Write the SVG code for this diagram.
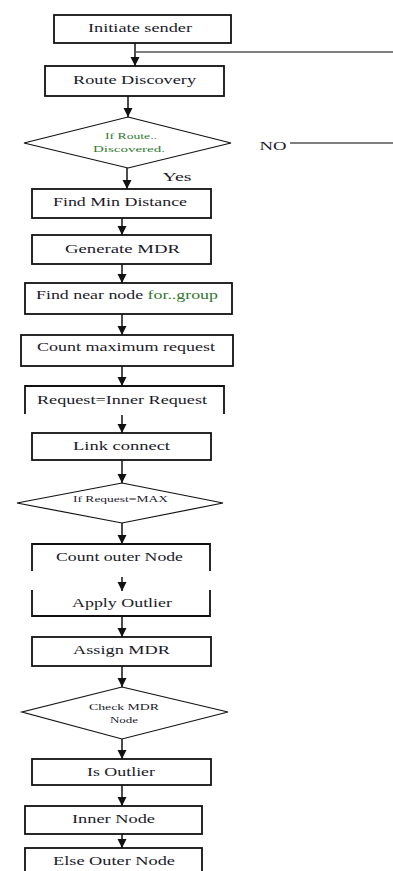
<svg xmlns="http://www.w3.org/2000/svg" width="393" height="871" viewBox="0 0 393 871">
<style>
.box{fill:#fff;stroke:#111;stroke-width:1.8}
.open{fill:none;stroke:#111;stroke-width:1.8}
.dia{fill:#fff;stroke:#111;stroke-width:1.2}
text{font-family:'Liberation Serif','DejaVu Serif','Times New Roman',serif}
.t{font-size:12.5px;fill:#1a1a2a;text-anchor:middle}
.s{font-size:8px;fill:#1a1a2a;text-anchor:middle}
.g{fill:#2f7a2f}
.c{stroke:#111;stroke-width:1.5;fill:none}
.side{stroke:#555;stroke-width:1.3;fill:none}
</style>
<defs>
<marker id="ah" markerUnits="userSpaceOnUse" markerWidth="10" markerHeight="10" refX="9" refY="5" orient="auto">
<path d="M0,0.5 L9,5 L0,9.5 z" fill="#111"/>
</marker>
</defs>

<g id="connectors">
<line class="c" x1="135" y1="43" x2="135" y2="66" marker-end="url(#ah)"/>
<line class="side" x1="135" y1="52" x2="393" y2="52"/>
<line class="c" x1="128" y1="96" x2="128" y2="117" marker-end="url(#ah)"/>
<line class="side" x1="290" y1="143" x2="393" y2="143"/>
<line class="c" x1="127" y1="168" x2="127" y2="189" marker-end="url(#ah)"/>
<line class="c" x1="122" y1="218" x2="122" y2="235" marker-end="url(#ah)"/>
<line class="c" x1="122" y1="264" x2="122" y2="283" marker-end="url(#ah)"/>
<line class="c" x1="122" y1="314" x2="122" y2="335" marker-end="url(#ah)"/>
<line class="c" x1="122" y1="366" x2="122" y2="386" marker-end="url(#ah)"/>
<line class="c" x1="122" y1="415" x2="122" y2="433" marker-end="url(#ah)"/>
<line class="c" x1="122" y1="460" x2="122" y2="483" marker-end="url(#ah)"/>
<line class="c" x1="122" y1="523" x2="122" y2="544" marker-end="url(#ah)"/>
<line class="c" x1="122" y1="577" x2="122" y2="591" marker-end="url(#ah)"/>
<line class="c" x1="122" y1="616" x2="122" y2="637" marker-end="url(#ah)"/>
<line class="c" x1="122" y1="666" x2="122" y2="687" marker-end="url(#ah)"/>
<line class="c" x1="122" y1="739" x2="122" y2="759" marker-end="url(#ah)"/>
<line class="c" x1="122" y1="785" x2="122" y2="806" marker-end="url(#ah)"/>
<line class="c" x1="122" y1="834" x2="122" y2="848" marker-end="url(#ah)"/>
</g>

<g id="initiate">
<rect class="box" x="54" y="15" width="177" height="28"/>
<text class="t" x="140" y="32" textLength="104" lengthAdjust="spacingAndGlyphs">Initiate sender</text>
</g>
<g id="route">
<rect class="box" x="45" y="66" width="179" height="30"/>
<text class="t" x="134.5" y="84" textLength="123" lengthAdjust="spacingAndGlyphs">Route Discovery</text>
</g>
<g id="dec1">
<polygon class="dia" points="128,117 231,143 128,168 24,143"/>
<text class="s g" x="131" y="139" textLength="52" lengthAdjust="spacingAndGlyphs">If Route..</text>
<text class="s g" x="129" y="152" textLength="72" lengthAdjust="spacingAndGlyphs">Discovered.</text>
</g>
<g id="no-label">
<text class="t" x="273" y="150" font-size="11" textLength="27" lengthAdjust="spacingAndGlyphs">NO</text>
</g>
<g id="yes-label">
<text class="t" x="177" y="181" font-size="11" textLength="29" lengthAdjust="spacingAndGlyphs">Yes</text>
</g>
<g id="findmin">
<rect class="box" x="32" y="189" width="179" height="29"/>
<text class="t" x="120" y="206" textLength="134" lengthAdjust="spacingAndGlyphs">Find Min Distance</text>
</g>
<g id="genmdr">
<rect class="box" x="32" y="235" width="179" height="29"/>
<text class="t" x="122.5" y="253" textLength="115" lengthAdjust="spacingAndGlyphs">Generate MDR</text>
</g>
<g id="findnear">
<rect class="box" x="25" y="283" width="207" height="31"/>
<text class="t" x="127" y="299" textLength="182" lengthAdjust="spacingAndGlyphs">Find near node <tspan class="g">for..group</tspan></text>
</g>
<g id="countmax">
<rect class="box" x="21" y="335" width="212" height="31"/>
<text class="t" x="126" y="351" textLength="178" lengthAdjust="spacingAndGlyphs">Count maximum request</text>
</g>
<g id="reqinner">
<path class="open" d="M25,414 V386 H224 V414"/>
<text class="t" x="122" y="404" textLength="170" lengthAdjust="spacingAndGlyphs">Request=Inner Request</text>
</g>
<g id="link">
<rect class="box" x="32" y="433" width="179" height="27"/>
<text class="t" x="121.5" y="450" textLength="97" lengthAdjust="spacingAndGlyphs">Link connect</text>
</g>
<g id="dec2">
<polygon class="dia" points="122,483 223,503 122,523 17,503"/>
<text class="s" x="120.5" y="502" textLength="95" lengthAdjust="spacingAndGlyphs">If Request=MAX</text>
</g>
<g id="countouter">
<path class="open" d="M32,571 V544 H210 V571"/>
<text class="t" x="119.5" y="561" textLength="127" lengthAdjust="spacingAndGlyphs">Count outer Node</text>
</g>
<g id="apply">
<path class="open" d="M32,590 V616 H210 V590"/>
<text class="t" x="122" y="607" textLength="100" lengthAdjust="spacingAndGlyphs">Apply Outlier</text>
</g>
<g id="assign">
<rect class="box" x="32" y="637" width="179" height="29"/>
<text class="t" x="121.5" y="654" textLength="97" lengthAdjust="spacingAndGlyphs">Assign MDR</text>
</g>
<g id="dec3">
<polygon class="dia" points="122,687 228,712 122,739 22,712"/>
<text class="s" x="124" y="710" textLength="70" lengthAdjust="spacingAndGlyphs">Check MDR</text>
<text class="s" x="124" y="723" textLength="28" lengthAdjust="spacingAndGlyphs">Node</text>
</g>
<g id="isoutlier">
<rect class="box" x="32" y="759" width="179" height="26"/>
<text class="t" x="121" y="776" textLength="68" lengthAdjust="spacingAndGlyphs">Is Outlier</text>
</g>
<g id="inner">
<rect class="box" x="25" y="806" width="177" height="28"/>
<text class="t" x="113.5" y="823" textLength="83" lengthAdjust="spacingAndGlyphs">Inner Node</text>
</g>
<g id="else">
<rect class="box" x="25" y="848" width="177" height="30"/>
<text class="t" x="114" y="865" textLength="122" lengthAdjust="spacingAndGlyphs">Else Outer Node</text>
</g>
</svg>
